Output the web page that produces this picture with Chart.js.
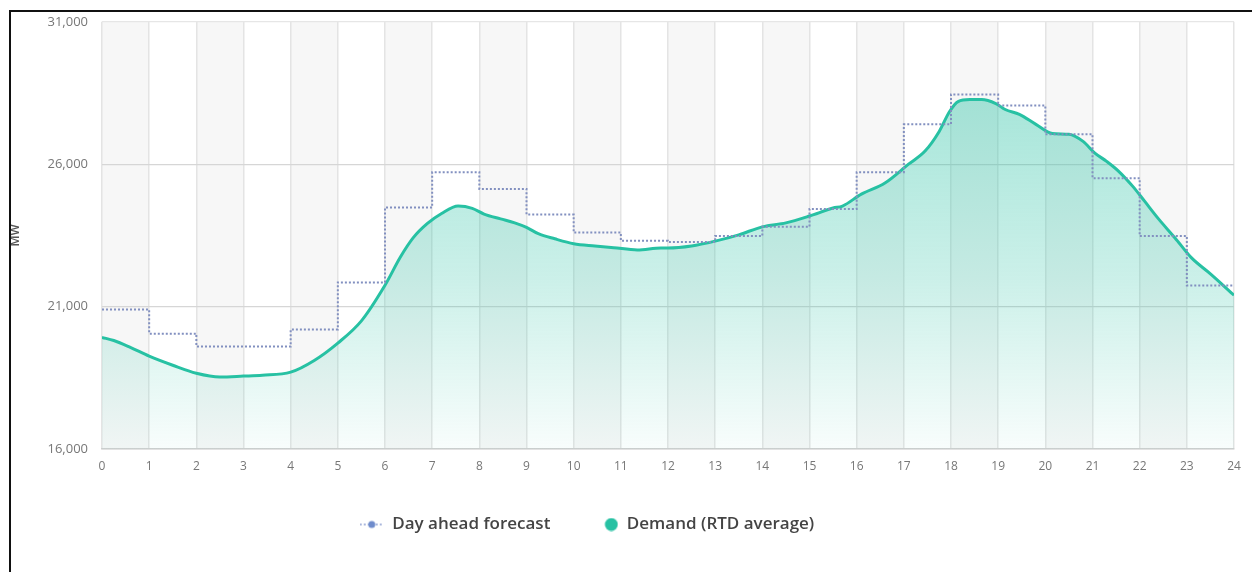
<!DOCTYPE html>
<html>
<head>
<meta charset="utf-8">
<script src="https://cdn.jsdelivr.net/npm/chart.js@4.4.1/dist/chart.umd.min.js"></script>
<style>
  html, body { margin: 0; padding: 0; background: #fff; }
  #wrap { position: relative; width: 1252px; height: 572px; overflow: hidden; }
  #chart { position: absolute; left: 0; top: 0; }
  #frame { position: absolute; left: 9px; top: 10px; right: -4px; bottom: -4px;
           border-top: 2px solid #111; border-left: 2px solid #111; pointer-events: none; }
</style>
</head>
<body>
<div id="wrap">
  <canvas id="chart" width="1252" height="572"></canvas>
  <div id="frame"></div>
</div>
<script>
// Hour of day on the x axis
const hourTicks = ['0','1','2','3','4','5','6','7','8','9','10','11','12',
                   '13','14','15','16','17','18','19','20','21','22','23','24'];

// Day-ahead forecast, one value per hour (held until the next hour)
const forecastHour = [0,1,2,3,4,5,6,7,8,9,10,11,12,13,14,15,16,17,18,19,20,21,22,23,24];
const forecastMW = [20900, 20050, 19600, 19600, 20200, 21850, 24480, 25720, 25130, 24230,
                    23600, 23310, 23270, 23480, 23800, 24430, 25720, 27400, 28450, 28060,
                    27050, 25510, 23480, 21740, 21740];

// Real-time dispatch demand average
const demandHour = [0, 0.25, 0.6, 1, 1.5, 2, 2.5, 3, 3.4, 4, 4.5, 5, 5.5, 6, 6.33, 6.6, 6.9,
                    7.2, 7.55, 7.85, 8.1, 8.45, 8.75, 9, 9.25, 9.6, 10, 10.45, 10.85, 11.35,
                    11.85, 12, 12.5, 13, 13.5, 14, 14.5, 15, 15.5, 15.7, 16.1, 16.6, 17.1,
                    17.45, 17.75, 17.97, 18.15, 18.4, 18.65, 18.95, 19.15, 19.45, 19.8, 20.15,
                    20.5, 20.8, 21.05, 21.3, 21.55, 21.85, 22.1, 22.4, 22.75, 23.1, 23.5, 24];
const demandMW = [19920, 19810, 19570, 19260, 18940, 18660, 18530, 18560, 18590, 18700, 19110,
                  19720, 20500, 21750, 22750, 23420, 23920, 24270, 24530, 24450, 24250, 24080,
                  23940, 23780, 23560, 23380, 23210, 23130, 23070, 22990, 23060, 23060, 23130,
                  23300, 23520, 23800, 23940, 24180, 24460, 24530, 24950, 25340, 26000, 26460,
                  27150, 27850, 28200, 28270, 28270, 28130, 27920, 27750, 27400, 27080, 27050,
                  26800, 26390, 26100, 25760, 25230, 24710, 24080, 23410, 22710, 22150, 21400];

// Y axis range and ticks
const yMin = 16000, yMax = 31000, yStep = 5000;

const forecastColor = '#8290c0';
const demandColor = '#27c1a3';

// Legend symbols
function forecastSymbol() {
  const c = document.createElement('canvas');
  c.width = 24; c.height = 10;
  const g = c.getContext('2d');
  g.strokeStyle = '#a9b6dc'; g.lineWidth = 2; g.setLineDash([2, 2]);
  g.beginPath(); g.moveTo(0, 5); g.lineTo(24, 5); g.stroke();
  g.fillStyle = '#6f8ccc';
  g.beginPath(); g.arc(12, 5, 3.5, 0, Math.PI * 2); g.fill();
  return c;
}
function demandSymbol() {
  const c = document.createElement('canvas');
  c.width = 24; c.height = 14;
  const g = c.getContext('2d');
  g.fillStyle = demandColor;
  g.beginPath(); g.arc(17, 7, 6.5, 0, Math.PI * 2); g.fill();
  return c;
}

// Alternate shaded hour bands behind the grid
const hourBands = {
  id: 'hourBands',
  beforeDraw(chart) {
    const { ctx, chartArea, scales } = chart;
    if (!chartArea) return;
    ctx.save();
    ctx.fillStyle = '#f7f7f7';
    for (let h = 0; h < 24; h += 2) {
      const x0 = scales.x.getPixelForValue(h);
      const x1 = scales.x.getPixelForValue(h + 1);
      ctx.fillRect(x0, chartArea.top, x1 - x0, chartArea.bottom - chartArea.top);
    }
    ctx.restore();
  }
};

// Legend sits a little left of the canvas centre
const legendShift = {
  id: 'legendShift',
  afterLayout(chart) {
    const lg = chart.legend;
    if (!lg) return;
    lg.left -= 30;
    lg.right -= 30;
  }
};

function demandFill(context) {
  const { chart } = context;
  const { ctx, chartArea } = chart;
  if (!chartArea) return 'rgba(39,193,163,0.3)';
  const g = ctx.createLinearGradient(0, chartArea.top, 0, chartArea.bottom);
  g.addColorStop(0, 'rgba(39,193,163,0.48)');
  g.addColorStop(0.6, 'rgba(39,193,163,0.24)');
  g.addColorStop(1, 'rgba(39,193,163,0.03)');
  return g;
}

const fSym = forecastSymbol();
const dSym = demandSymbol();
const padBottom = 29;
const plotBottom = 449;

new Chart(document.getElementById('chart'), {
  type: 'line',
  data: {
    datasets: [
      {
        label: 'Day ahead forecast',
        data: forecastHour.map((h, i) => ({ x: h, y: forecastMW[i] })),
        borderColor: forecastColor,
        borderWidth: 2,
        borderDash: [2, 2],
        stepped: 'before',
        pointRadius: 0,
        fill: false,
        pointStyle: fSym,
        order: 1
      },
      {
        label: 'Demand (RTD average)',
        data: demandHour.map((h, i) => ({ x: h, y: demandMW[i] })),
        borderColor: demandColor,
        borderWidth: 3,
        backgroundColor: demandFill,
        fill: 'start',
        cubicInterpolationMode: 'monotone',
        pointRadius: 0,
        pointStyle: dSym,
        order: 2
      }
    ]
  },
  options: {
    responsive: false,
    animation: false,
    layout: { padding: { top: 20, right: 18, bottom: padBottom, left: 0 } },
    plugins: {
      tooltip: { enabled: false },
      legend: {
        position: 'bottom',
        labels: {
          usePointStyle: true,
          pointStyleWidth: 24,
          boxHeight: 14,
          padding: 44,
          color: '#444',
          font: { family: 'Open Sans', size: 17, weight: '600' }
        }
      }
    },
    scales: {
      x: {
        type: 'linear',
        min: 0, max: 24,
        afterFit(scale) {
          const lg = scale.chart.legend;
          scale.height = 572 - padBottom - (lg ? lg.height : 0) - plotBottom;
        },
        ticks: {
          stepSize: 1,
          padding: 10,
          color: '#777',
          font: { family: 'Open Sans', size: 12 },
          maxRotation: 0,
          callback: (v) => hourTicks[v]
        },
        grid: { color: '#e4e4e4', lineWidth: 1.5, drawTicks: false },
        border: { color: '#cfcfcf', width: 1.5 }
      },
      y: {
        min: yMin, max: yMax,
        afterFit(scale) { scale.width = 102; },
        ticks: {
          stepSize: yStep,
          padding: 14,
          color: '#777',
          font: { family: 'Open Sans', size: 13 },
          callback: (v) => v.toLocaleString('en-US')
        },
        title: {
          display: true, text: 'MW', color: '#555',
          font: { family: 'Open Sans', size: 12, weight: '600' },
          padding: { top: 8, bottom: 0 }
        },
        grid: { color: (c) => (c.tick && c.tick.value === yMax ? '#e6e6e6' : '#d6d6d6'),
                lineWidth: 1.2, drawTicks: false },
        border: { display: false }
      }
    }
  },
  plugins: [hourBands, legendShift]
});
</script>
</body>
</html>
